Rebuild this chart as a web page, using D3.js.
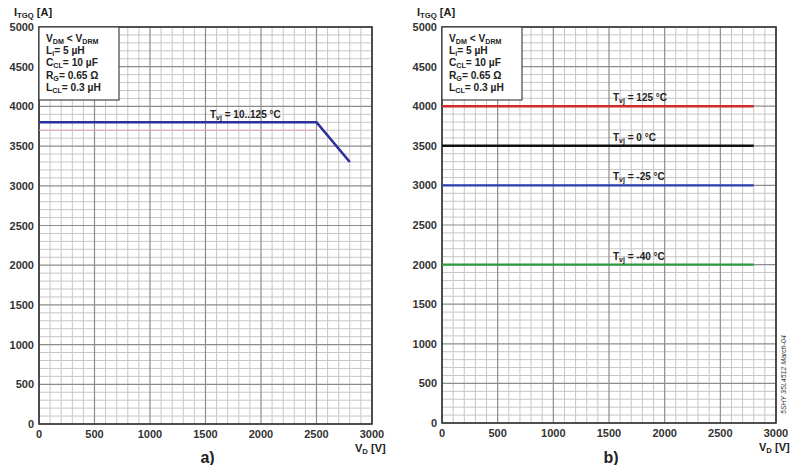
<!DOCTYPE html>
<html>
<head>
<meta charset="utf-8">
<script src="https://cdn.jsdelivr.net/npm/d3@7"></script>
<style>
  body { margin: 0; background: #fff; }
  svg { display: block; font-family: "Liberation Sans", Arial, sans-serif; }
</style>
</head>
<body>
<div id="chart"></div>
<script>
// axis ticks (shared by both panels)
const voltTicks = [0, 500, 1000, 1500, 2000, 2500, 3000];
const currTicks = [0, 500, 1000, 1500, 2000, 2500, 3000, 3500, 4000, 4500, 5000];
const gridStep = 100;

// panel a) : one curve for Tvj = 10..125 °C
const curveAVolt = [0, 2500, 2800];
const curveACurr = [3800, 3800, 3300];
const curveALabel = "10..125 °C";
// faint reference line seen in the scan
const ghostAVolt = [0, 2500];
const ghostACurr = [3700, 3700];

// panel b) : flat limits per temperature
const tempLabels = ["125 °C", "0 °C", "-25 °C", "-40 °C"];
const tempLimits = [4000, 3500, 3000, 2000];
const limitVoltEnd = 2800;

// test conditions box
const conditions = [
  [["V", ""], ["DM", "sub"], [" < V", ""], ["DRM", "sub"]],
  [["L", ""], ["i", "sub"], ["= 5 µH", ""]],
  [["C", ""], ["CL", "sub"], ["= 10 µF", ""]],
  [["R", ""], ["G", "sub"], ["= 0.65 Ω", ""]],
  [["L", ""], ["CL", "sub"], ["= 0.3 µH", ""]]
];

const tempColors = ["#d42a2a", "#111111", "#2f3fb0", "#2e9a3a"];

const width = 792, height = 465;
const svg = d3.select("#chart").append("svg")
  .attr("width", width)
  .attr("height", height);

// writes text made of normal + subscript parts
function richText(g, x, y, parts, size) {
  const t = g.append("text")
    .attr("x", x).attr("y", y)
    .attr("font-size", size)
    .attr("font-weight", "bold")
    .attr("fill", "#222");
  parts.forEach((p, i) => {
    const prev = i > 0 ? parts[i - 1][1] : "";
    let dy = 0;
    if (p[1] === "sub" && prev !== "sub") dy = size * 0.2;
    if (p[1] !== "sub" && prev === "sub") dy = -size * 0.2;
    t.append("tspan")
      .attr("dy", dy)
      .attr("font-size", p[1] === "sub" ? size * 0.7 : size)
      .text(p[0]);
  });
  return t;
}

function panel(box, tag) {
  const x = d3.scaleLinear().domain([0, 3000]).range([box.x0, box.x1]);
  const y = d3.scaleLinear().domain([0, 5000]).range([box.y1, box.y0]);
  const g = svg.append("g");

  // minor grid
  g.append("g").selectAll("line")
    .data(d3.range(0, 3001, gridStep).filter(v => v % 500 !== 0))
    .join("line")
    .attr("x1", d => x(d)).attr("x2", d => x(d))
    .attr("y1", box.y0).attr("y2", box.y1)
    .attr("stroke", "#c6c6c6").attr("stroke-width", 1);
  g.append("g").selectAll("line")
    .data(d3.range(0, 5001, gridStep).filter(v => v % 500 !== 0))
    .join("line")
    .attr("y1", d => y(d)).attr("y2", d => y(d))
    .attr("x1", box.x0).attr("x2", box.x1)
    .attr("stroke", "#c6c6c6").attr("stroke-width", 1);

  // major grid
  g.append("g").selectAll("line")
    .data(voltTicks)
    .join("line")
    .attr("x1", d => x(d)).attr("x2", d => x(d))
    .attr("y1", box.y0).attr("y2", box.y1)
    .attr("stroke", "#8c8c8c").attr("stroke-width", 1.2);
  g.append("g").selectAll("line")
    .data(currTicks)
    .join("line")
    .attr("y1", d => y(d)).attr("y2", d => y(d))
    .attr("x1", box.x0).attr("x2", box.x1)
    .attr("stroke", "#8c8c8c").attr("stroke-width", 1.2);

  // frame
  g.append("rect")
    .attr("x", box.x0).attr("y", box.y0)
    .attr("width", box.x1 - box.x0).attr("height", box.y1 - box.y0)
    .attr("fill", "none").attr("stroke", "#333").attr("stroke-width", 1.6);

  // tick labels
  g.append("g").selectAll("text")
    .data(currTicks)
    .join("text")
    .attr("x", box.x0 - 5).attr("y", d => y(d) + 4)
    .attr("text-anchor", "end")
    .attr("font-size", 11).attr("font-weight", "bold").attr("fill", "#333")
    .text(d => d);
  g.append("g").selectAll("text")
    .data(voltTicks)
    .join("text")
    .attr("x", d => x(d)).attr("y", box.y1 + 14)
    .attr("text-anchor", "middle")
    .attr("font-size", 11).attr("font-weight", "bold").attr("fill", "#333")
    .text(d => d);

  // axis titles
  richText(g, box.x0 - 25, 16, [["I", ""], ["TGQ", "sub"], [" [A]", ""]], 11);
  richText(g, box.x1 - 17, box.y1 + 28, [["V", ""], ["D", "sub"], [" [V]", ""]], 11);

  g.append("text")
    .attr("x", (box.x0 + box.x1) / 2 + 2).attr("y", 463)
    .attr("text-anchor", "middle")
    .attr("font-size", 16).attr("font-weight", "bold").attr("fill", "#222")
    .text(tag);

  // conditions box
  g.append("rect")
    .attr("x", box.x0).attr("y", box.y0)
    .attr("width", 80).attr("height", 73)
    .attr("fill", "#fff").attr("stroke", "#444").attr("stroke-width", 1.2);
  conditions.forEach((c, i) => richText(g, box.x0 + 7, box.y0 + 15 + i * 12.2, c, 10.2));

  return { g, x, y };
}

// panel a)
const pa = panel({ x0: 39, x1: 372, y0: 27, y1: 424 }, "a)");
const lineA = d3.line().x(d => pa.x(d[0])).y(d => pa.y(d[1]));
pa.g.append("path")
  .attr("d", lineA(d3.zip(ghostAVolt, ghostACurr)))
  .attr("fill", "none").attr("stroke", "#e6a6ae").attr("stroke-width", 1);
pa.g.append("path")
  .attr("d", lineA(d3.zip(curveAVolt, curveACurr)))
  .attr("fill", "none").attr("stroke", "#2b2f9e").attr("stroke-width", 2.6);
richText(pa.g, 210, pa.y(curveACurr[0]) - 4,
  [["T", ""], ["vj", "sub"], [" = " + curveALabel, ""]], 10);

// panel b)
const pb = panel({ x0: 442, x1: 776, y0: 27, y1: 423 }, "b)");
const lineB = d3.line().x(d => pb.x(d[0])).y(d => pb.y(d[1]));
tempLimits.forEach((lim, i) => {
  pb.g.append("path")
    .attr("d", lineB([[0, lim], [limitVoltEnd, lim]]))
    .attr("fill", "none").attr("stroke", tempColors[i]).attr("stroke-width", 2.4);
  richText(pb.g, 613, pb.y(lim) - 5,
    [["T", ""], ["vj", "sub"], [" = " + tempLabels[i], ""]], 10);
});

// document reference, rotated along the right edge
svg.append("text")
  .attr("transform", "translate(786,414) rotate(-90)")
  .attr("font-size", 7).attr("font-style", "italic").attr("fill", "#333")
  .text("5SHY 35L4512 March-04");
</script>
</body>
</html>
